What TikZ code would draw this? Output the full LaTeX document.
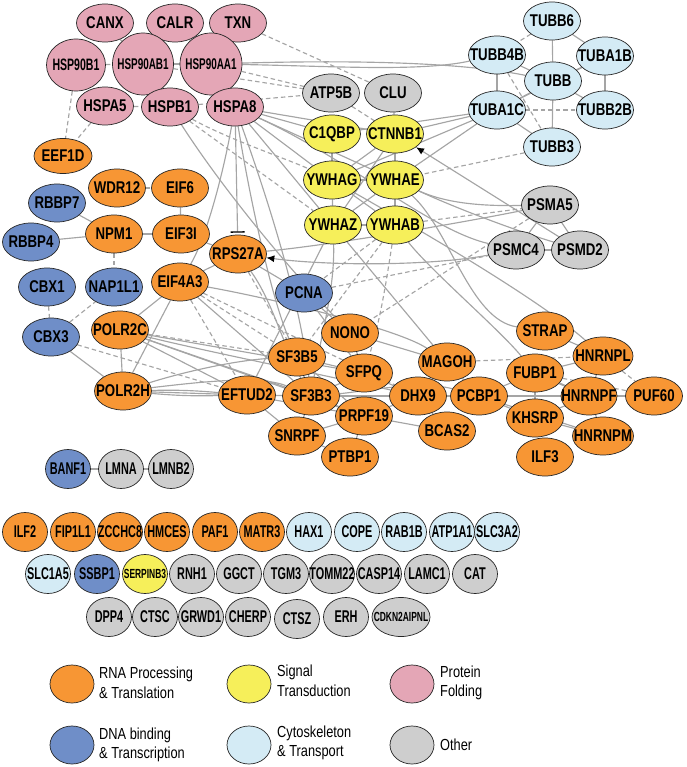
\documentclass[tikz,border=0pt]{standalone}
\usepackage{fontspec}
\newfontfamily\genefam{Liberation Sans}[FakeStretch=0.78]
\newfontfamily\narrowfam{Liberation Sans}[FakeStretch=0.64]
\newfontfamily\legendfam{Liberation Sans}[FakeStretch=0.8]
\usetikzlibrary{shapes.geometric,arrows.meta,backgrounds}

\definecolor{rnaorange}{RGB}{247,150,52}
\definecolor{sigyellow}{RGB}{246,239,90}
\definecolor{foldpink}{RGB}{228,166,182}
\definecolor{dnablue}{RGB}{111,142,200}
\definecolor{cytoblue}{RGB}{212,235,245}
\definecolor{othergray}{RGB}{206,206,206}
\definecolor{edgegray}{RGB}{165,165,165}

\begin{document}
\begin{tikzpicture}[
    x=1pt, y=-1pt,
    gene/.style={ellipse, draw=black!85, line width=0.7pt, minimum width=57pt, minimum height=38pt,
                 inner sep=-10pt, text=black, font=\genefam\bfseries\fontsize{17}{18}\selectfont},
    small/.style={gene, minimum width=45pt, minimum height=39pt, font=\narrowfam\bfseries\fontsize{17}{18}\selectfont},
    rna/.style={fill=rnaorange},
    sig/.style={fill=sigyellow},
    fold/.style={fill=foldpink},
    dna/.style={fill=dnablue},
    cyto/.style={fill=cytoblue},
    other/.style={fill=othergray},
    link/.style={draw=edgegray, line width=1.15pt},
    dlink/.style={link, dash pattern=on 4.5pt off 3pt},
    legtext/.style={anchor=west, align=left, inner sep=0pt, font=\legendfam\fontsize{16}{19.5}\selectfont}
]
\useasboundingbox (0,0) rectangle (686,767);

% --- Protein folding ---
\node[gene, fold] (CANX) at (105,23) {CANX};
\node[gene, fold] (CALR) at (175,23) {CALR};
\node[gene, fold] (TXN) at (238,23) {TXN};
\node[gene, fold, minimum width=59pt, minimum height=52pt, font=\narrowfam\bfseries\fontsize{16.5}{17}\selectfont] (HSP90B1) at (76,65) {HSP90B1};
\node[gene, fold, minimum width=61pt, minimum height=62pt, font=\narrowfam\bfseries\fontsize{15.5}{16}\selectfont] (HSP90AB1) at (143,64) {HSP90AB1};
\node[gene, fold, minimum width=62pt, minimum height=62pt, font=\narrowfam\bfseries\fontsize{15.5}{16}\selectfont] (HSP90AA1) at (211,64) {HSP90AA1};
\node[gene, fold] (HSPA5) at (105,106) {HSPA5};
\node[gene, fold] (HSPB1) at (170,107) {HSPB1};
\node[gene, fold] (HSPA8) at (235,107) {HSPA8};

% --- Cytoskeleton ---
\node[gene, cyto] (TUBB6) at (552,21) {TUBB6};
\node[gene, cyto] (TUBB4B) at (497,55) {TUBB4B};
\node[gene, cyto] (TUBA1B) at (605,56) {TUBA1B};
\node[gene, cyto] (TUBB) at (553,81) {TUBB};
\node[gene, cyto] (TUBA1C) at (497,110) {TUBA1C};
\node[gene, cyto] (TUBB2B) at (605,110) {TUBB2B};
\node[gene, cyto] (TUBB3) at (552,147) {TUBB3};

% --- Signal transduction and others ---
\node[gene, other] (ATP5B) at (331,93) {ATP5B};
\node[gene, other] (CLU) at (393,93) {CLU};
\node[gene, sig] (C1QBP) at (332,134) {C1QBP};
\node[gene, sig] (CTNNB1) at (395,134) {CTNNB1};
\node[gene, sig] (YWHAG) at (332,180) {YWHAG};
\node[gene, sig] (YWHAE) at (395,180) {YWHAE};
\node[gene, sig] (YWHAZ) at (333,225) {YWHAZ};
\node[gene, sig] (YWHAB) at (395,225) {YWHAB};
\node[gene, other] (PSMA5) at (550,205) {PSMA5};
\node[gene, other] (PSMC4) at (516,250) {PSMC4};
\node[gene, other] (PSMD2) at (580,250) {PSMD2};

% --- Left block ---
\node[gene, rna, minimum width=58pt, minimum height=35pt] (EEF1D) at (63,156) {EEF1D};
\node[gene, rna] (WDR12) at (117,188) {WDR12};
\node[gene, rna] (EIF6) at (180,188) {EIF6};
\node[gene, dna] (RBBP7) at (57,203) {RBBP7};
\node[gene, rna] (NPM1) at (114,234) {NPM1};
\node[gene, rna] (EIF3I) at (181,234) {EIF3I};
\node[gene, dna] (RBBP4) at (31,242) {RBBP4};
\node[gene, rna] (RPS27A) at (238,254) {RPS27A};
\node[gene, dna] (CBX1) at (47,287) {CBX1};
\node[gene, dna] (NAP1L1) at (114,287) {NAP1L1};
\node[gene, rna] (EIF4A3) at (180,282) {EIF4A3};
\node[gene, dna] (PCNA) at (304,293) {PCNA};
\node[gene, dna] (CBX3) at (51,337) {CBX3};
\node[gene, rna] (POLR2C) at (120,330) {POLR2C};
\node[gene, rna] (POLR2H) at (123,391) {POLR2H};

% --- RNA processing block ---
\node[gene, rna] (SF3B5) at (297,357) {SF3B5};
\node[gene, rna] (EFTUD2) at (247,395) {EFTUD2};
\node[gene, rna] (SF3B3) at (311,396) {SF3B3};
\node[gene, rna] (SNRPF) at (297,436) {SNRPF};
\node[gene, rna] (NONO) at (350,333) {NONO};
\node[gene, rna] (SFPQ) at (364,373) {SFPQ};
\node[gene, rna] (PRPF19) at (364,416) {PRPF19};
\node[gene, rna] (PTBP1) at (350,457) {PTBP1};
\node[gene, rna] (MAGOH) at (447,362) {MAGOH};
\node[gene, rna] (DHX9) at (418,396) {DHX9};
\node[gene, rna] (PCBP1) at (479,396) {PCBP1};
\node[gene, rna] (BCAS2) at (447,431) {BCAS2};
\node[gene, rna] (STRAP) at (545,331) {STRAP};
\node[gene, rna] (FUBP1) at (535,373) {FUBP1};
\node[gene, rna] (KHSRP) at (535,418) {KHSRP};
\node[gene, rna] (ILF3) at (545,457) {ILF3};
\node[gene, rna, minimum width=60pt] (HNRNPL) at (603,356) {HNRNPL};
\node[gene, rna, minimum width=56pt] (HNRNPF) at (589,396) {HNRNPF};
\node[gene, rna, minimum width=61pt] (HNRNPM) at (603,436) {HNRNPM};
\node[gene, rna] (PUF60) at (654,396) {PUF60};

% --- Lamina ---
\node[small, dna] (BANF1) at (68,469) {BANF1};
\node[small, other] (LMNA) at (121,469) {LMNA};
\node[small, other] (LMNB2) at (171,469) {LMNB2};

% --- Unconnected proteins ---
\node[small, rna] (ILF2) at (25,532) {ILF2};
\node[small, rna] (FIP1L1) at (73,532) {FIP1L1};
\node[small, rna] (ZCCHC8) at (120,532) {ZCCHC8};
\node[small, rna] (HMCES) at (167,532) {HMCES};
\node[small, rna] (PAF1) at (215,532) {PAF1};
\node[small, rna] (MATR3) at (262,532) {MATR3};
\node[small, cyto] (HAX1) at (309,532) {HAX1};
\node[small, cyto] (COPE) at (357,532) {COPE};
\node[small, cyto] (RAB1B) at (404,532) {RAB1B};
\node[small, cyto] (ATP1A1) at (452,532) {ATP1A1};
\node[small, cyto] (SLC3A2) at (497,532) {SLC3A2};

\node[small, cyto] (SLC1A5) at (48,574) {SLC1A5};
\node[small, dna] (SSBP1) at (97,574) {SSBP1};
\node[small, sig, font=\narrowfam\bfseries\fontsize{13.2}{14}\selectfont] (SERPINB3) at (145,574) {SERPINB3};
\node[small, other] (RNH1) at (192,574) {RNH1};
\node[small, other] (GGCT) at (239,574) {GGCT};
\node[small, other] (TGM3) at (286,574) {TGM3};
\node[small, other] (TOMM22) at (332,574) {TOMM22};
\node[small, other] (CASP14) at (379,574) {CASP14};
\node[small, other] (LAMC1) at (427,574) {LAMC1};
\node[small, other] (CAT) at (475,574) {CAT};

\node[small, other] (DPP4) at (109,617) {DPP4};
\node[small, other] (CTSC) at (155,617) {CTSC};
\node[small, other] (GRWD1) at (201,617) {GRWD1};
\node[small, other] (CHERP) at (248,617) {CHERP};
\node[small, other] (CTSZ) at (297,619) {CTSZ};
\node[small, other] (ERH) at (346,617) {ERH};
\node[small, other, minimum width=58pt, font=\narrowfam\bfseries\fontsize{13.2}{14}\selectfont] (CDKN2AIPNL) at (401,617) {CDKN2AIPNL};

% --- Legend ---
\node[small, rna, minimum width=44pt, minimum height=38pt] (legRNA) at (72,684) {};
\node[legtext] (legRNAtext) at (99,683) {RNA Processing\\\& Translation};
\node[small, sig, minimum width=44pt, minimum height=38pt] (legSIG) at (249,684) {};
\node[legtext] (legSIGtext) at (277,681) {Signal\\Transduction};
\node[small, fold, minimum width=44pt, minimum height=38pt] (legFOLD) at (412,684) {};
\node[legtext] (legFOLDtext) at (440,683) {Protein\\Folding};
\node[small, dna, minimum width=44pt, minimum height=38pt] (legDNA) at (72,745) {};
\node[legtext] (legDNAtext) at (99,745) {DNA binding\\\& Transcription};
\node[small, cyto, minimum width=44pt, minimum height=38pt] (legCYTO) at (249,745) {};
\node[legtext] (legCYTOtext) at (277,743) {Cytoskeleton\\\& Transport};
\node[small, other, minimum width=44pt, minimum height=38pt] (legOTHER) at (412,745) {};
\node[legtext] (legOTHERtext) at (440,745) {Other};

\begin{scope}[on background layer]
% --- Straight interactions ---
\foreach \a/\b in {CANX/HSP90AB1, CALR/HSP90AB1, CALR/HSP90AA1, TXN/HSP90AA1, HSP90AB1/HSP90AA1,
    TUBB6/TUBB, TUBB6/TUBA1B, TUBB4B/TUBB, TUBB4B/TUBA1C, TUBA1B/TUBB, TUBA1B/TUBB2B, TUBB/TUBA1C,
    TUBB/TUBB2B, TUBB/TUBB3, TUBA1C/TUBB3, TUBA1C/TUBA1B,
    CLU/CTNNB1, C1QBP/YWHAG, CTNNB1/YWHAE, CTNNB1/YWHAG, CTNNB1/YWHAZ, YWHAG/YWHAE, YWHAG/YWHAZ,
    YWHAG/YWHAB, YWHAE/YWHAZ, YWHAE/YWHAB, YWHAZ/YWHAB, CTNNB1/YWHAB,
    PSMA5/PSMC4, PSMA5/PSMD2, PSMC4/PSMD2,
    EIF6/EIF3I, NPM1/EIF3I, RBBP7/NPM1, RBBP4/NPM1, EIF3I/RPS27A, EIF4A3/RPS27A, EIF4A3/POLR2C,
    EIF4A3/POLR2H, POLR2C/POLR2H, CBX3/POLR2H, RPS27A/PCNA, PCNA/NONO, PCNA/SFPQ, EIF4A3/SF3B3,
    SF3B5/SF3B3, EFTUD2/SF3B3, SF3B3/PRPF19, SF3B3/SNRPF, SNRPF/PRPF19, PTBP1/PRPF19, PTBP1/SNRPF,
    SFPQ/NONO, SFPQ/DHX9, SFPQ/SF3B3, PRPF19/DHX9, SF3B5/SFPQ, EFTUD2/SNRPF, EFTUD2/PRPF19,
    SF3B5/PRPF19, DHX9/PCBP1, DHX9/MAGOH, DHX9/BCAS2, PCBP1/MAGOH, PRPF19/BCAS2, SF3B3/DHX9,
    NONO/MAGOH, PCBP1/FUBP1, PCBP1/HNRNPF, PCBP1/KHSRP, PCBP1/HNRNPM, FUBP1/HNRNPL, KHSRP/HNRNPF,
    KHSRP/HNRNPM, HNRNPF/PUF60, HNRNPL/HNRNPF, HNRNPF/HNRNPM, FUBP1/KHSRP, STRAP/HNRNPL,
    HSPA8/C1QBP, HSPA8/YWHAG, HSPA8/YWHAE, HSPA8/CTNNB1, HSPA8/YWHAZ, YWHAZ/MAGOH, YWHAZ/EFTUD2,
    TUBA1C/YWHAE, TUBA1C/YWHAG, TUBA1C/C1QBP, TUBA1C/CTNNB1, POLR2H/EFTUD2, POLR2C/EFTUD2,
    POLR2C/SF3B3, POLR2C/SFPQ, POLR2C/PRPF19, BANF1/LMNA, LMNA/LMNB2}
  \draw[link] (\a) -- (\b);
\draw[link, line width=2pt] (FUBP1) -- (HNRNPF);
\draw[link] (POLR2H) to[bend left=3] (EFTUD2);
\draw[link] (POLR2H) to[bend right=3] (EFTUD2);

% --- Dashed interactions ---
\foreach \a/\b in {HSP90B1/HSP90AB1, HSPA5/HSPB1, HSP90B1/EEF1D, HSPA5/EEF1D, HSP90AA1/ATP5B,
    HSPB1/ATP5B, HSP90AB1/ATP5B, TXN/CLU, ATP5B/CTNNB1, TUBB6/TUBB4B, TUBB4B/TUBB3, TUBA1C/TUBB2B,
    TUBB3/YWHAE, YWHAB/PSMA5, WDR12/EIF6, NPM1/NAP1L1, CBX1/CBX3, CBX3/NAP1L1, RPS27A/SF3B5,
    EIF4A3/SF3B5, EIF4A3/EFTUD2, EIF4A3/DHX9, MAGOH/HNRNPL, HNRNPL/PUF60, FUBP1/PUF60, HSPB1/YWHAZ,
    PCNA/PSMC4, PSMA5/NONO, YWHAB/PCNA, CBX3/EFTUD2, POLR2C/SF3B5, YWHAB/SF3B5}
  \draw[dlink] (\a) -- (\b);

% --- Long curved interactions ---
\draw[link] (HSP90AA1) .. controls (330,66) and (420,72) .. (TUBB4B);
\draw[link] (HSP90AA1) .. controls (350,60) and (460,62) .. (TUBB);
\draw[link] (HSPA8) .. controls (350,160) and (430,230) .. (PSMC4);
\draw[link] (HSPA8) .. controls (222,180) and (205,240) .. (EIF4A3);
\draw[link] (HSPA8) .. controls (250,200) and (272,300) .. (SF3B5);
\draw[link] (HSPA8) .. controls (268,200) and (300,300) .. (SF3B3);
\draw[link] (HSPB1) .. controls (230,200) and (300,280) .. (NONO);
\draw[dlink] (HSPB1) .. controls (230,140) and (290,160) .. (YWHAG);
\draw[link] (YWHAE) .. controls (450,205) and (490,206) .. (PSMA5);
\draw[link] (YWHAE) .. controls (460,210) and (520,232) .. (PSMD2);
\draw[link] (RPS27A) .. controls (330,245) and (450,225) .. (PSMA5);
\draw[link] (YWHAE) .. controls (450,230) and (470,320) .. (STRAP);
\draw[link] (YWHAB) .. controls (430,270) and (500,330) .. (FUBP1);
\draw[link] (YWHAG) .. controls (420,230) and (540,300) .. (HNRNPL);
\draw[link] (YWHAZ) .. controls (335,290) and (320,340) .. (SF3B3);
\draw[dlink] (YWHAB) .. controls (385,290) and (380,320) .. (SFPQ);
\draw[link] (EIF4A3) .. controls (280,300) and (400,330) .. (MAGOH);
\draw[link] (RPS27A) .. controls (272,300) and (285,350) .. (SF3B3);
\draw[link] (POLR2H) .. controls (200,382) and (260,375) .. (SF3B3);
\draw[link] (POLR2H) .. controls (190,370) and (240,360) .. (SF3B5);
\draw[link] (POLR2C) .. controls (200,350) and (300,370) .. (DHX9);
\draw[link] (SF3B3) .. controls (360,392) and (420,380) .. (PCBP1);

% --- Directed interactions ---
\draw[link, -{Latex[length=8pt, width=7pt, color=black]}] (PSMD2) -- (CTNNB1);
\draw[link, -{Latex[length=8pt, width=7pt, color=black]}] (PSMC4) .. controls (430,266) and (330,266) .. (RPS27A);
\draw[link, shorten >=2pt, -{Bar[width=14pt, line width=1.3pt, color=black]}] (HSPA8) -- (RPS27A);
\end{scope}
\end{tikzpicture}
\end{document}
